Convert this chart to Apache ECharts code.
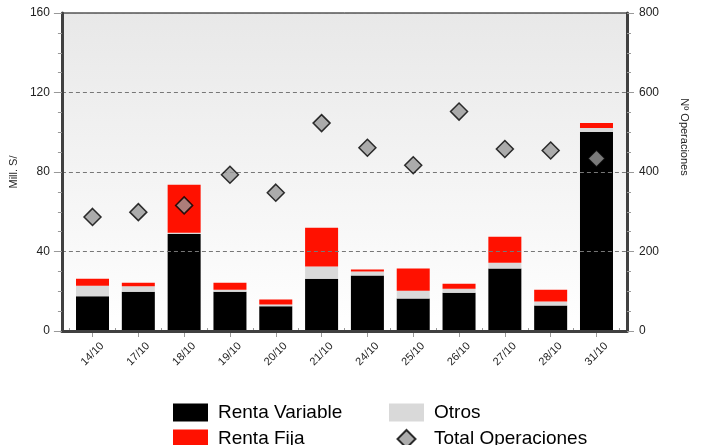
<!DOCTYPE html>
<html>
<head>
<meta charset="utf-8">
<script src="https://cdn.jsdelivr.net/npm/echarts@6/dist/echarts.min.js"></script>
<style>html,body{margin:0;padding:0;background:#fff;}#c{width:701px;height:445px;}</style>
</head>
<body>
<div id="c"></div>
<script>
const categories = ['14/10','17/10','18/10','19/10','20/10','21/10','24/10','25/10','26/10','27/10','28/10','31/10'];
const rentaVariable = [17.5,19.8,48.8,19.8,12.4,26.3,27.9,16.3,19.3,31.4,12.8,100.1];
const otros = [5.3,2.7,0.6,1.0,0.9,6.1,2.0,4.0,2.0,3.0,2.0,2.0];
const rentaFija = [3.5,1.8,24.2,3.5,2.5,19.5,1.0,11.1,2.5,13.0,6.0,2.5];
const totalOperaciones = [287,299,316,393,348,523,461,417,552,458,454,434];
const leftTicks = {min:0, max:160, interval:40};
const rightTicks = {min:0, max:800, interval:200};

const FONT = "'Liberation Sans', Arial, sans-serif";
const chart = echarts.init(document.getElementById('c'));
const axisDark = '#404040';
const tickGrey = '#999';
const legendBase = {orient: 'vertical', top: 403, height: 80, padding: 0, itemWidth: 35, itemHeight: 18, itemGap: 7,
  symbolKeepAspect: true, textStyle: {fontSize: 19, color: '#000', fontFamily: FONT, padding: [0,0,0,5]}};

chart.setOption({
  animation: false,
  textStyle: {fontFamily: FONT},
  grid: [
    {left: 60, right: 74, top: 13, bottom: 114, show: true, borderColor: '#000', borderWidth: 1,
     backgroundColor: new echarts.graphic.LinearGradient(0,0,0,1,[{offset:0,color:'#e8e8e8'},{offset:1,color:'#ffffff'}])},
    {left: 69.6, right: 81.6, top: 13, bottom: 114}
  ],
  legend: [
    Object.assign({}, legendBase, {left: 173, data: [{name: 'Renta Variable', icon: 'rect'}, {name: 'Renta Fija', icon: 'rect'}]}),
    Object.assign({}, legendBase, {left: 389, data: [{name: 'Otros', icon: 'rect'}, {name: 'Total Operaciones', icon: 'path://M9,0L18,9L9,18L0,9Z'}]})
  ],
  xAxis: [
    {gridIndex: 0, type: 'value', min: 0, max: 1, z: 3,
     axisLine: {show: true, lineStyle: {color: axisDark, width: 3}},
     axisTick: {show: false}, axisLabel: {show: false}, splitLine: {show: false}},
    {gridIndex: 1, type: 'category', data: categories, boundaryGap: true,
     axisLine: {show: false},
     axisTick: {show: true, alignWithLabel: true, length: 6, lineStyle: {color: tickGrey}},
     axisLabel: {rotate: 45, align: 'center', verticalAlign: 'middle', margin: 23, fontSize: 11, color: '#222', fontFamily: FONT, interval: 0},
     splitLine: {show: false}},
    {gridIndex: 1, type: 'value', min: -0.5, max: 11.5, interval: 0.25,
     axisLine: {show: false},
     axisTick: {show: true, length: 3, lineStyle: {color: tickGrey}},
     axisLabel: {show: false}, splitLine: {show: false}}
  ],
  yAxis: [
    {gridIndex: 0, type: 'value', position: 'left', min: leftTicks.min, max: leftTicks.max, interval: leftTicks.interval, z: 3,
     name: 'Mill. S/', nameLocation: 'middle', nameGap: 38, nameRotate: 90,
     nameTextStyle: {fontSize: 11, color: '#222', fontFamily: FONT},
     axisLine: {show: true, lineStyle: {color: axisDark, width: 3}},
     axisTick: {show: true, length: 8, lineStyle: {color: tickGrey}},
     minorTick: {show: true, splitNumber: 4, length: 4, lineStyle: {color: tickGrey}},
     axisLabel: {fontSize: 12, color: '#222', margin: 12, fontFamily: FONT},
     splitLine: {show: true, lineStyle: {color: '#777', type: [4,3], width: 1}}},
    {gridIndex: 0, type: 'value', position: 'right', min: rightTicks.min, max: rightTicks.max, interval: rightTicks.interval, z: 3,
     name: 'Nº Operaciones', nameLocation: 'middle', nameGap: 52, nameRotate: -90,
     nameTextStyle: {fontSize: 11, color: '#222', fontFamily: FONT, padding: [0,70,0,0]},
     axisLine: {show: true, lineStyle: {color: axisDark, width: 3}},
     axisTick: {show: true, length: 7, lineStyle: {color: tickGrey}},
     minorTick: {show: true, splitNumber: 4, length: 4, lineStyle: {color: tickGrey}},
     axisLabel: {fontSize: 12, color: '#222', margin: 12, fontFamily: FONT},
     splitLine: {show: false}},
    {gridIndex: 1, type: 'value', min: leftTicks.min, max: leftTicks.max, interval: leftTicks.interval, show: false},
    {gridIndex: 1, type: 'value', min: rightTicks.min, max: rightTicks.max, interval: rightTicks.interval, show: false}
  ],
  series: [
    {name: 'Renta Variable', type: 'bar', stack: 'tot', xAxisIndex: 1, yAxisIndex: 2, data: rentaVariable, barWidth: 33, itemStyle: {color: '#000'}},
    {name: 'Otros', type: 'bar', stack: 'tot', xAxisIndex: 1, yAxisIndex: 2, data: otros, barWidth: 33, itemStyle: {color: '#d9d9d9'}},
    {name: 'Renta Fija', type: 'bar', stack: 'tot', xAxisIndex: 1, yAxisIndex: 2, data: rentaFija, barWidth: 33, itemStyle: {color: '#ff1100'}},
    {name: 'Total Operaciones', type: 'scatter', xAxisIndex: 1, yAxisIndex: 3, data: totalOperaciones, symbol: 'diamond', symbolSize: 17, z: 5,
     itemStyle: {color: '#999', borderColor: '#000', borderWidth: 1.5}}
  ]
});
</script>
</body>
</html>
